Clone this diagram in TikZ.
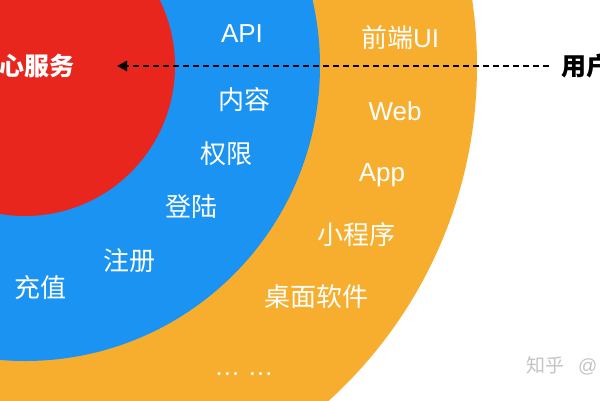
\documentclass[tikz,border=0pt]{standalone}
\usepackage{fontspec}
\setmainfont{Liberation Sans}
\newfontfamily\cjk{Noto Sans CJK SC}
\usetikzlibrary{arrows.meta}
\definecolor{corered}{HTML}{E8261E}
\definecolor{ringblue}{HTML}{1B93F2}
\definecolor{ringorange}{HTML}{F7AE2F}
\definecolor{markgray}{HTML}{C4C4C4}
\begin{document}
\begin{tikzpicture}[x=1pt,y=-1pt,
  lbl/.style={text=white, font=\fontsize{26}{30}\selectfont, inner sep=0pt, anchor=center},
  corelbl/.style={text=white, font=\fontsize{25}{30}\selectfont\cjk\bfseries, inner sep=0pt, anchor=center},
  userlbl/.style={text=black, font=\fontsize{25}{30}\selectfont\cjk\bfseries, inner sep=0pt, anchor=west},
  marklbl/.style={text=markgray, font=\fontsize{19}{22}\selectfont, inner sep=0pt, anchor=west},
  flow/.style={draw=black, line width=2.6pt, dash pattern=on 6pt off 4pt, -{Triangle[length=10pt,width=10pt]}}]
\useasboundingbox (0,0) rectangle (600,400);
\clip (0,0) rectangle (600,400);
\fill[white] (0,0) rectangle (600,400);
\fill[ringorange] (25,66) circle[radius=452];
\fill[ringblue] (25,66) circle[radius=295];
\fill[corered] (25,66) circle[radius=150];
% core
\node[corelbl] (core) at (25,66) {核心服务};
% blue ring
\node[lbl] (api) at (242,34) {API};
\node[lbl] (content) at (244,100) {\cjk 内容};
\node[lbl] (perm) at (226,154) {\cjk 权限};
\node[lbl] (login) at (191,207) {\cjk 登陆};
\node[lbl] (reg) at (129,261) {\cjk 注册};
\node[lbl] (pay) at (40,288) {\cjk 充值};
% orange ring
\node[lbl] (ui) at (400,38) {{\cjk 前端}UI};
\node[lbl] (web) at (395,111) {Web};
\node[lbl] (app) at (382,175) {App};
\node[lbl] (mini) at (356,235) {\cjk 小程序};
\node[lbl] (desk) at (316,297) {\cjk 桌面软件};
\node[lbl] (more) at (244,374) {… …};
% user
\node[userlbl] (user) at (561,66) {用户};
\coordinate (tip) at (117,66);
\draw[flow] ([xshift=-12pt]user.west) -- (tip);
% watermark
\node[marklbl] (mark) at (526,366) {{\cjk 知乎}\hspace{14pt}@};
\end{tikzpicture}
\end{document}
